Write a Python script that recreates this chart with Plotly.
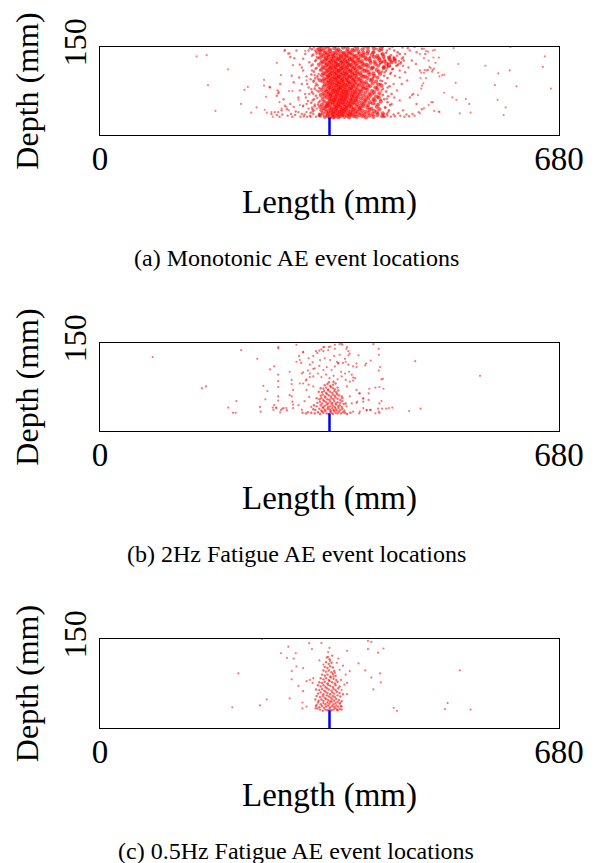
import plotly.graph_objects as go

# ---------------------------------------------------------------- data ---
LENGTH_RANGE = [0, 680]
DEPTH_RANGE = [0, 150]
x_tick_values = [0, 680]
x_tick_labels = ["0", "680"]
y_tick_values = [150]
y_tick_labels = ["150"]

# notch / crack starter at mid-span (length, depth in mm)
crack_x = [340, 340]
crack_depth = [0, 30]

captions = [
    "(a) Monotonic AE event locations",
    "(b) 2Hz Fatigue AE event locations",
    "(c) 0.5Hz Fatigue AE event locations",
]

# (a) monotonic test: dense cloud above the notch (length mm, depth mm)
mono_core = [
    (333,31),(337,33),(340,30),(344,34),(347,31),(350,33),(353,30),(356,32),(359,34),(362,31),(366,33),(369,30),(372,34),(376,32),(380,31),(384,34),(389,32),(394,30),(399,33),(405,31),(411,34),(418,32),(326,34),(345,30),
    (330,37),(335,39),(338,36),(342,38),(345,36),(348,39),(351,37),(354,35),(357,38),(360,36),(363,39),(367,37),(370,35),(374,38),(378,36),(382,39),(387,37),(392,35),(398,38),(404,36),(410,39),(419,37),
    (328,42),(334,44),(339,41),(343,43),(346,40),(349,44),(352,42),(355,40),(358,43),(361,41),(364,44),(368,42),(371,40),(375,43),(379,41),(384,44),(388,42),(393,40),(399,43),(406,41),(414,44),
    (331,46),(336,49),(340,47),(344,45),(347,48),(350,46),(353,49),(356,47),(359,45),(362,48),(365,46),(369,49),(372,47),(376,45),(380,48),(385,46),(390,49),(396,47),(402,45),(410,48),(326,48),
    (329,52),(335,50),(338,53),(341,51),(345,54),(348,52),(351,50),(354,53),(357,51),(360,54),(363,52),(366,50),(370,53),(373,51),(377,54),(381,52),(386,50),(391,53),(397,51),(404,54),(412,52),
    (332,57),(337,55),(341,58),(344,56),(347,59),(350,57),(353,55),(356,58),(359,56),(362,59),(365,57),(368,55),(372,58),(375,56),(379,59),(383,57),(388,55),(394,58),(400,56),(407,59),(416,57),
    (330,62),(336,64),(340,61),(343,63),(346,60),(349,64),(352,62),(355,60),(358,63),(361,61),(364,64),(367,62),(371,60),(374,63),(378,61),(382,64),(387,62),(392,60),(398,63),(405,61),(413,64),
    (333,67),(338,69),(341,66),(344,68),(348,65),(351,69),(354,67),(357,65),(360,68),(363,66),(366,69),(369,67),(373,65),(376,68),(380,66),(385,69),(390,67),(395,65),(401,68),(409,66),(327,68),
    (331,71),(336,74),(339,72),(342,70),(346,73),(349,71),(352,74),(355,72),(358,70),(361,73),(364,71),(367,74),(371,72),(374,70),(378,73),(382,71),(387,74),(393,72),(399,70),(406,73),(414,71),
    (334,76),(338,79),(342,77),(345,75),(348,78),(351,76),(354,79),(357,77),(360,75),(363,78),(366,76),(370,79),(373,77),(377,75),(381,78),(385,76),(390,79),(396,77),(403,75),(411,78),(328,77),
    (331,82),(336,84),(340,81),(343,83),(346,80),(350,84),(353,82),(356,80),(359,83),(362,81),(365,84),(368,82),(372,80),(375,83),(379,81),(384,84),(389,82),(394,80),(400,83),(408,81),(417,84),
    (333,87),(338,89),(341,86),(344,88),(348,85),(351,89),(354,87),(357,85),(360,88),(363,86),(367,89),(370,87),(374,85),(377,88),(381,86),(386,89),(391,87),(397,85),(404,88),(412,86),
    (330,92),(335,94),(339,91),(342,93),(346,90),(349,94),(352,92),(355,90),(358,93),(361,91),(365,94),(368,92),(371,90),(375,93),(379,91),(383,94),(388,92),(394,90),(401,93),(409,91),(326,93),
    (332,96),(337,99),(340,97),(344,95),(347,98),(350,96),(353,99),(356,97),(359,95),(362,98),(366,96),(369,99),(373,97),(376,95),(380,98),(385,96),(390,99),(396,97),(403,95),(411,98),
    (329,102),(334,104),(338,101),(341,103),(345,100),(348,104),(351,102),(354,100),(357,103),(361,101),(364,104),(367,102),(371,100),(374,103),(378,101),(382,104),(387,102),(393,100),(399,103),(406,101),(415,104),
    (331,106),(336,109),(340,107),(343,105),(347,108),(350,106),(353,109),(356,107),(360,105),(363,108),(366,106),(370,109),(373,107),(377,105),(381,108),(386,106),(392,109),(398,107),(405,105),(413,108),
    (328,112),(333,114),(337,111),(341,113),(344,110),(347,114),(351,112),(354,110),(357,113),(360,111),(364,114),(367,112),(371,110),(375,113),(379,111),(384,114),(389,112),(395,110),(402,113),(410,111),(420,114),
    (330,116),(335,119),(339,117),(342,115),(346,118),(349,116),(352,119),(356,117),(359,115),(362,118),(366,116),(369,119),(373,117),(377,115),(381,118),(386,116),(391,119),(397,117),(404,115),(412,118),(421,116),(428,119),
    (327,122),(332,124),(336,121),(340,123),(343,120),(347,124),(350,122),(353,120),(357,123),(360,121),(364,124),(367,122),(371,120),(375,123),(379,121),(384,124),(389,122),(395,120),(401,123),(408,121),(416,124),(424,122),(432,124),
    (329,126),(334,129),(338,127),(342,125),(345,128),(349,126),(352,129),(356,127),(359,125),(363,128),(367,126),(370,129),(374,127),(378,125),(383,128),(388,126),(394,129),(400,127),(407,125),(414,128),(421,126),(429,129),(437,127),
    (326,132),(331,134),(335,131),(339,133),(343,130),(346,134),(350,132),(354,130),(357,133),(361,131),(365,134),(369,132),(373,130),(377,133),(382,131),(387,134),(393,132),(399,130),(406,133),(413,131),(420,134),(428,132),(436,130),
    (328,137),(333,139),(337,136),(341,138),(345,135),(349,139),(353,137),(357,135),(361,138),(365,136),(369,139),(374,137),(379,135),(384,138),(390,136),(396,139),(403,137),(411,135),(419,138),
    (325,142),(331,144),(336,141),(341,143),(346,140),(351,144),(356,142),(361,140),(366,143),(371,141),(377,144),(383,142),(390,140),(397,143),(405,141),(414,144),
    (328,147),(334,149),(340,146),(347,148),(353,146),(360,149),(367,147),(374,145),(381,148),(389,146),(397,149),(406,147),(416,148),(324,146),
]

# events on the flanks of the dense cloud
mono_fringe = [
    (312,38),(315,44),(318,49),(313,55),(317,61),(320,67),(314,73),(318,79),(322,85),(316,91),(319,97),(313,103),(317,108),(321,114),(315,120),(319,126),
    (323,131),(316,137),(320,142),(314,146),(325,36),(323,52),(326,58),(324,74),(325,80),(322,100),(326,110),(324,118),(321,139),(327,144),
    (422,31),(425,36),(428,42),(423,47),(430,51),(426,56),(421,61),(427,66),(432,70),(424,74),(419,79),(429,83),(423,88),(418,92),(426,97),(421,101),
    (431,106),(424,110),(418,108),(433,112),(427,116),(439,118),(445,122),(450,127),(431,136),(424,140),(441,141),(418,145),(429,147),(436,144),(444,138),(449,132),
    (416,60),(419,68),(415,87),
]

mono_halo = [
    (252,81),(263,76),(264,71),(262,67),(259,39),(264,39),(262,34),(274,145),(279,139),(282,133),(288,131),(291,144),(296,120),(299,115),(301,130),(304,138),
    (301,50),(303,35),(306,100),(309,81),(310,70),(310,124),(314,110),(315,59),(317,93),(319,144),(321,76),(321,45),(323,121),(324,104),(324,56),(274,50),
    (282,53),(287,48),(254,36),(269,42),(277,44),(283,36),(289,34),(294,64),(296,76),(305,64),(307,87),(295,98),(287,90),(284,101),(272,61),(267,87),
    (294,39),(299,36),(306,39),(311,33),(316,36),(314,47),(301,110),(309,144),(314,135),(299,87),(304,70),(306,53),(316,70),(319,113),(321,133),(317,42),
    (312,95),(318,102),(320,88),(322,63),(318,52),(313,118),(320,128),(325,138),(311,148),(317,149),(322,147),(308,58),(313,78),(319,84),(323,96),(315,40),
    (309,45),(312,31),(320,31),(324,33),(297,31),(290,40),(285,31),(278,33),(270,35),(266,31),
    (405,141),(410,132),(415,121),(420,115),(425,114),(430,117),(434,113),(422,107),(430,104),(437,101),(442,121),(447,130),(452,138),(459,144),(469,141),(477,147),
    (482,138),(462,127),(468,121),(474,110),(455,93),(447,87),(440,76),(464,70),(459,64),(469,53),(477,44),(449,42),(442,37),(435,35),(427,39),(420,35),
    (412,37),(454,35),(463,36),(472,39),(432,53),(425,62),(436,64),(444,59),(417,76),(426,81),(435,87),(444,98),(452,107),(415,93),(412,64),(422,47),
    (407,53),(410,81),(405,70),(405,98),(405,115),(400,133),(410,147),(425,144),(440,135),(417,138),(430,127),(435,133),(444,110),(449,118),(457,115),
    (418,124),(423,127),(427,122),(432,125),(438,123),(443,126),(421,131),(426,118),(436,129),(441,119),(446,124),(429,133),
    (326,150),(338,149),(349,150),(363,149),(377,150),(392,149),(404,150),(419,149),(433,150),(448,149),(456,148),(466,150),
    (302,32),(307,31),(326,32),(420,32),(426,33),(431,31),(437,32),(445,33),(451,31),(458,32),(466,33),
]

mono_outer = [
    (143,134),(158,136),(190,112),(160,85),(219,82),(214,77),(243,94),(243,84),(246,65),(209,53),(232,47),(224,38),(171,41),(244,43),(247,38),(251,82),
    (254,39),(256,31),(262,123),(265,73),(266,56),(268,102),(269,45),(273,143),(276,48),(280,42),(281,139),(280,75),(285,75),(286,119),(294,60),(296,51),
    (301,49),(304,143),(306,93),
    (480,147),(483,143),(486,142),(493,144),(496,145),(474,138),(494,132),(502,132),(480,131),(487,127),(497,123),(524,148),(531,121),(490,114),(495,113),(481,111),
    (486,111),(492,108),(476,106),(480,106),(501,106),(510,103),(503,100),(475,97),(483,97),(527,89),(479,88),(477,84),(476,79),(510,72),(522,64),(528,60),
    (542,61),(547,53),(493,56),(487,51),(480,46),(495,41),(503,39),(474,37),(533,37),(549,38),(571,118),(590,105),(585,85),(589,60),(601,47),(598,34),
    (607,110),(617,83),(608,150),(656,116),(659,134),(668,79),(471,68),(462,68),(484,110),(493,111),(491,56),(502,40),(507,102),(488,116),
]

# (b) 2 Hz fatigue test
fat2_core = [
    (318,30),(323,32),(326,29),(329,33),(331,31),(334,34),(336,30),(339,29),(341,33),(343,31),(345,29),(347,34),(349,31),(352,30),(354,33),(357,30),(360,32),(363,31),(366,29),(313,31),(308,32),(305,30),(371,31),(300,31),
    (319,36),(325,38),(328,35),(331,39),(333,36),(337,38),(340,37),(342,35),(344,39),(346,36),(349,38),(351,35),(353,39),(356,36),(359,38),(362,35),(316,37),
    (321,42),(327,44),(330,41),(333,43),(336,45),(338,41),(341,42),(343,46),(345,43),(348,41),(350,45),(353,42),(355,44),(358,41),(361,46),(317,44),
    (322,48),(326,50),(329,47),(332,51),(335,49),(338,47),(341,50),(344,48),(347,51),(349,47),(352,49),(356,48),(359,51),(364,47),
    (325,54),(328,56),(331,53),(334,57),(337,54),(340,53),(343,56),(346,54),(349,57),(352,55),(356,53),(359,56),(321,56),
    (327,60),(330,62),(333,59),(336,63),(339,61),(342,59),(345,62),(348,60),(351,63),(354,61),(358,59),
    (329,66),(332,68),(335,65),(338,69),(341,67),(344,65),(347,68),(350,66),(353,69),(324,67),
    (331,72),(335,74),(338,71),(342,75),(345,73),(348,71),(352,74),(327,73),
    (333,78),(337,80),(341,77),(345,79),(349,81),(339,83),(346,84),
]

fat2_spread = [
    (264,143),(291,147),(301,134),(316,128),(328,139),(332,143),(338,138),(341,144),(348,147),(355,148),(359,147),(366,143),(370,132),(326,121),(333,124),(341,121),
    (347,128),(353,115),(364,118),(368,113),(311,113),(318,107),(325,111),(331,104),(336,109),(343,104),(348,110),(357,101),(363,98),(369,101),(311,98),(316,93),
    (323,98),(328,92),(335,96),(340,90),(346,94),(352,88),(358,93),(364,87),(306,88),(299,98),(301,81),(309,79),(316,76),(366,76),(370,84),(373,96),
    (378,90),(375,110),(380,115),(355,130),(322,133),(309,124),(295,128),(296,81),(286,70),(281,61),(285,50),(294,44),(299,36),(272,39),(277,35),(261,39),
    (257,36),(268,36),(380,70),(385,64),(390,56),(381,50),(390,39),(395,35),(400,36),(385,33),(370,59),(373,47),(365,42),(375,33),
    (78,126),(151,73),(157,76),(190,40),(197,31),(201,31),(202,51),(209,138),(233,123),(237,41),(238,33),(242,77),(245,54),(248,68),(252,105),(256,40),
    (258,110),(258,44),(261,40),(264,96),(264,85),(264,75),(264,59),(264,52),(264,141),(267,32),(270,38),(276,39),(281,101),(284,87),(284,80),(284,59),
    (286,39),(286,45),(291,118),(296,121),(298,116),(301,135),(301,100),(303,51),(305,86),(306,70),(308,103),(310,58),(311,92),(313,41),(315,117),(316,106),
    (413,130),(413,140),(413,103),(414,75),(415,109),(417,88),(419,89),(399,72),(401,120),(405,148),(394,115),(393,112),(380,109),(383,129),(375,91),(375,86),
    (365,140),(368,136),(363,123),(368,129),(360,116),(351,118),(353,116),(358,149),(348,140),(339,143),(331,143),(331,136),(325,137),(320,136),(417,51),(414,47),
    (412,38),(413,33),(418,38),(424,38),(428,39),(433,40),(420,72),(408,74),(398,64),(398,53),(390,55),(390,50),(384,64),(380,48),(384,30),(395,36),
    (401,36),(408,30),(414,31),(458,34),(467,119),(475,38),(563,94),
]

# (c) 0.5 Hz fatigue test
fat05_core = [
    (330,29),(334,31),(337,30),(340,32),(343,30),(346,31),(349,33),(352,30),(355,32),(326,31),(322,33),(358,31),
    (325,35),(329,37),(332,34),(335,36),(338,38),(341,35),(344,37),(347,35),(350,38),(353,36),(357,37),(320,37),
    (327,40),(331,42),(334,40),(337,43),(340,41),(343,44),(346,40),(349,42),(352,44),(355,41),(323,43),
    (324,46),(328,48),(331,46),(335,49),(338,47),(341,45),(344,48),(347,46),(350,49),(354,47),(358,45),(319,48),
    (326,52),(330,54),(333,51),(336,55),(339,53),(342,51),(345,54),(348,52),(352,55),(356,53),(321,54),
    (323,58),(327,60),(331,57),(334,61),(337,59),(341,57),(344,60),(347,58),(351,61),(355,59),(360,57),
    (325,64),(329,66),(332,63),(336,67),(339,65),(343,63),(346,66),(349,64),(353,67),(320,65),
    (327,70),(331,72),(334,69),(338,73),(341,71),(345,69),(349,72),(355,70),(323,72),
    (329,76),(333,78),(337,75),(340,79),(344,77),(348,75),(352,78),(325,77),
    (331,82),(335,84),(339,81),(342,85),(346,83),(327,84),(350,81),
    (333,88),(337,90),(341,87),(345,91),(329,90),(349,88),
    (335,95),(339,97),(343,94),(331,97),(347,96),
    (337,101),(341,104),(333,103),(345,102),
    (339,108),(335,111),(343,110),(340,116),(336,119),(344,122),
]

fat05_spread = [
    (279,137),(268,126),(277,118),(287,117),(290,126),(291,104),(284,96),(284,82),(301,101),(301,62),(294,71),(300,43),(300,33),(306,36),(281,50),(310,143),
    (314,133),(328,143),(340,135),(338,128),(325,114),(331,107),(338,120),(341,113),(353,117),(351,110),(360,105),(366,130),(370,96),(364,90),(357,81),(358,64),
    (366,57),(383,109),(393,97),(397,133),(402,145),(397,147),(412,127),(420,134),(402,85),(415,92),(416,77),(405,65),(311,81),(316,84),(306,79),(315,76),
    (355,98),(348,93),(346,87),(366,76),(362,73),(356,42),(358,36),(351,31),(321,39),(319,33),(435,34),(440,29),
    (205,92),(196,35),(237,38),(247,48),(240,150),(511,32),(515,42),(533,97),(549,31),
]

# ---------------------------------------------------------------- figure --
W, H = 596, 863
FONT = "Liberation Serif, Times New Roman, serif"
RED = "rgb(255,0,0)"

# plot-box placement of the three panels (pixels from the top-left corner)
box_left, box_right = 100, 559
box_rows = [(47, 135), (343, 431), (639, 728)]
caption_rows = [258, 554, 851]

panel_points = [
    [(mono_outer, 2.2, 0.5), (mono_halo, 2.4, 0.55), (mono_fringe, 2.6, 0.6), (mono_core, 4.2, 0.62)],
    [(fat2_spread, 2.2, 0.55), (fat2_core, 2.4, 0.6)],
    [(fat05_spread, 2.2, 0.55), (fat05_core, 2.4, 0.6)],
]

fig = go.Figure()

for i, groups in enumerate(panel_points, start=1):
    xa = "x" if i == 1 else f"x{i}"
    ya = "y" if i == 1 else f"y{i}"
    for pts, size, alpha in groups:
        xs = [p[0] for p in pts]
        ds = [p[1] for p in pts]
        fig.add_trace(go.Scatter(
            x=xs, y=ds, mode="markers", xaxis=xa, yaxis=ya,
            marker=dict(color=RED, size=size, opacity=alpha, line=dict(width=0)),
            showlegend=False, hoverinfo="skip",
        ))
    fig.add_trace(go.Scatter(
        x=crack_x, y=crack_depth, mode="lines", xaxis=xa, yaxis=ya,
        line=dict(color="rgb(0,0,255)", width=2.5),
        showlegend=False, hoverinfo="skip",
    ))

layout = dict(
    width=W, height=H,
    margin=dict(l=0, r=0, t=0, b=0),
    paper_bgcolor="white", plot_bgcolor="white",
    font=dict(family=FONT, color="black"),
    annotations=[],
)

for i, ((top, bottom), cap_y, cap) in enumerate(zip(box_rows, caption_rows, captions), start=1):
    sfx = "" if i == 1 else str(i)
    layout[f"xaxis{sfx}"] = dict(
        domain=[box_left / W, box_right / W],
        anchor=f"y{sfx}", range=LENGTH_RANGE,
        tickmode="array", tickvals=x_tick_values, ticktext=x_tick_labels,
        ticks="", showgrid=False, zeroline=False,
        showline=True, mirror=True, linecolor="black", linewidth=1.2,
        tickfont=dict(family=FONT, size=33), ticklabelstandoff=-6,
        title=dict(text="Length (mm)", font=dict(family=FONT, size=33), standoff=14),
        automargin=False, fixedrange=True,
    )
    layout[f"yaxis{sfx}"] = dict(
        domain=[1 - bottom / H, 1 - top / H],
        anchor=f"x{sfx}", range=DEPTH_RANGE,
        tickmode="array", tickvals=y_tick_values, ticktext=y_tick_labels,
        tickangle=-90,
        ticks="", showgrid=False, zeroline=False,
        showline=True, mirror=True, linecolor="black", linewidth=1.2,
        tickfont=dict(family=FONT, size=32),
        title=dict(text="Depth (mm)", font=dict(family=FONT, size=32), standoff=8),
        automargin=False, fixedrange=True,
    )
    layout["annotations"].append(dict(
        text=cap, xref="paper", yref="paper",
        x=0.497, y=1 - cap_y / H, xanchor="center", yanchor="middle",
        showarrow=False, font=dict(family=FONT, size=24),
    ))

fig.update_layout(**layout)
fig.write_html("out.html")
